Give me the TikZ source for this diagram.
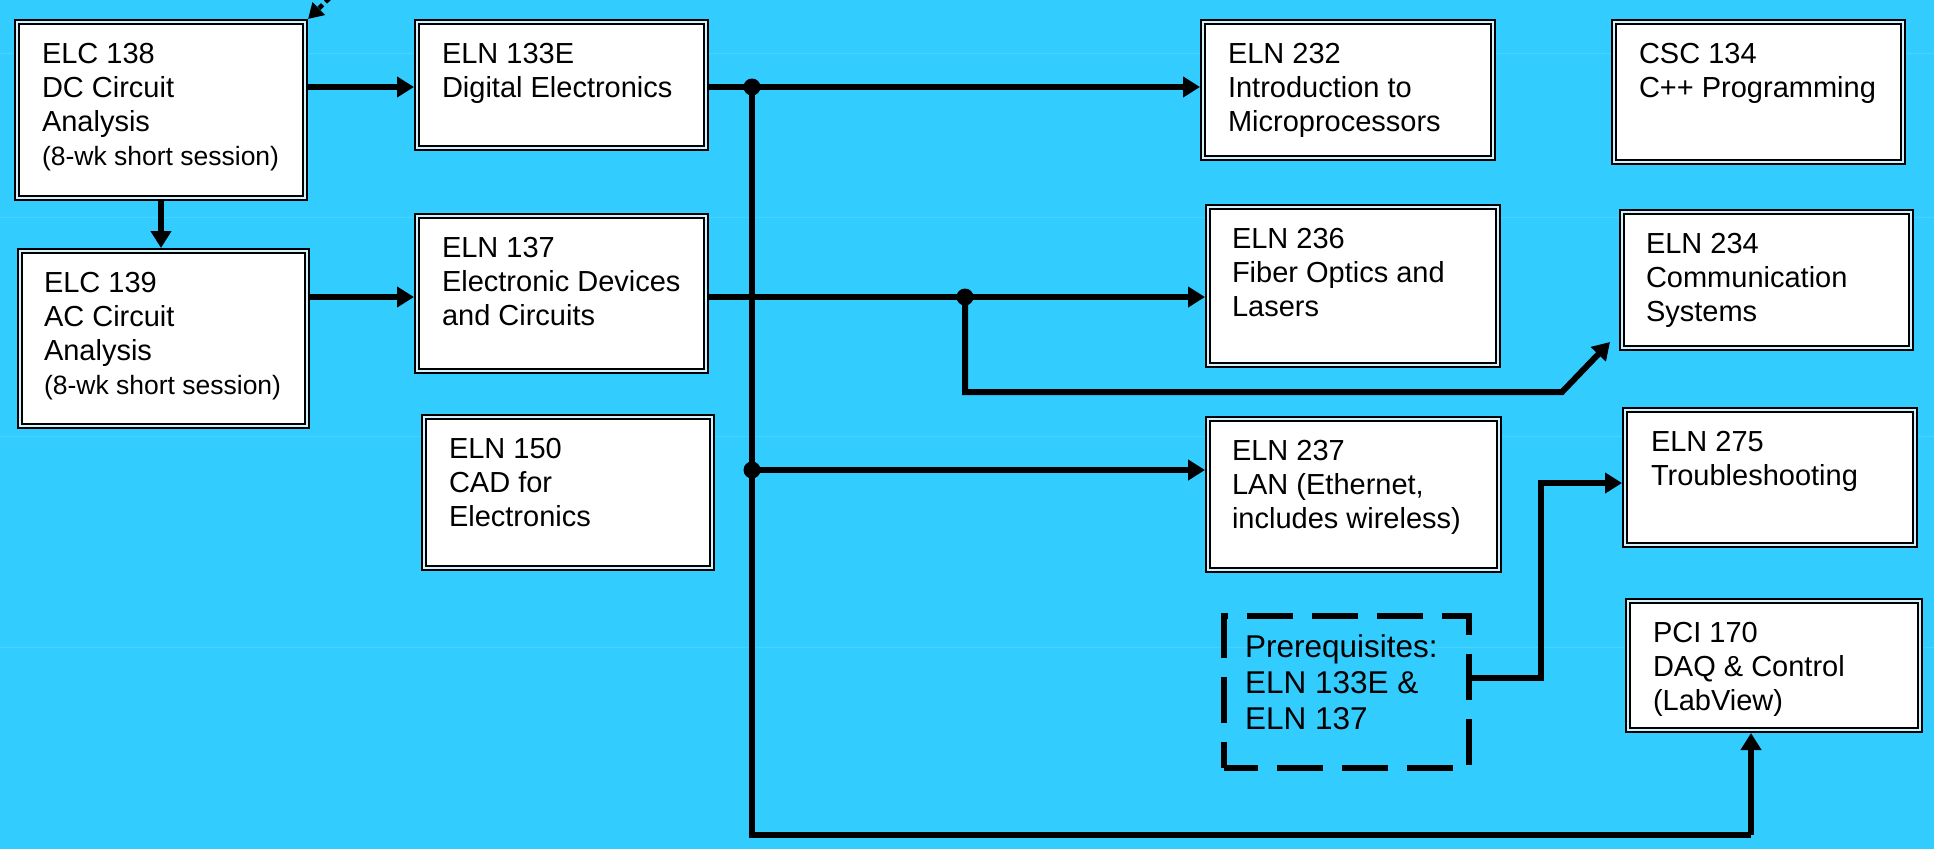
\documentclass[tikz,border=0pt]{standalone}
\usepackage{fontspec}
\setmainfont{Liberation Sans}
\usetikzlibrary{arrows.meta,calc}
\definecolor{bg}{HTML}{33CCFF}
\definecolor{dbl}{HTML}{CFF3FF}
\definecolor{gl}{HTML}{48D2FF}
\newcommand{\bxt}[4]{\parbox[t][#2pt][t]{#1pt}{\raggedright\leftskip=#3pt\relax\fontsize{29pt}{34pt}\selectfont\rule{0pt}{41pt}#4}}
\newcommand{\bigbxt}[4]{\parbox[t][#2pt][t]{#1pt}{\raggedright\leftskip=#3pt\relax\fontsize{31.5pt}{36pt}\selectfont\rule{0pt}{41pt}#4}}
\newcommand{\smalltxt}[1]{{\fontsize{26.5pt}{33pt}\selectfont #1}}
\tikzset{
  box/.style={draw=black, line width=2.3pt, double=dbl, double distance=1.8pt, fill=white,
    inner sep=0pt, outer sep=3pt, anchor=north west},
  dbox/.style={draw=black, line width=6pt, dash pattern=on 46pt off 19pt, dash phase=12pt,
    inner sep=0pt, outer sep=3pt, anchor=north west},
  con/.style={draw=black, line width=6pt, line join=miter},
  arr/.style={con, -{Triangle[length=17pt,width=20pt]}},
  darr/.style={draw=black, line width=4.5pt, dash pattern=on 5pt off 4pt, -{Triangle[length=15pt,width=17pt]}},
  dot/.style={fill=black},
  grid/.style={draw=gl, line width=1pt}
}
\begin{document}
\begin{tikzpicture}[x=1pt,y=-1pt]
\useasboundingbox (0,0) rectangle (1934,849);
\fill[bg] (0,0) rectangle (1934,849);
\draw[grid] (0,53) -- (1934,53);
\draw[grid] (0,217) -- (1934,217);
\draw[grid] (0,436) -- (1934,436);
\draw[grid] (0,647) -- (1934,647);

% boxes
\node[box] (elc138) at (14,19) {\bxt{288}{176}{25}{ELC 138\\DC Circuit\\Analysis\\\smalltxt{(8-wk short session)}}};
\node[box] (elc139) at (17,248) {\bxt{287}{175}{24}{ELC 139\\AC Circuit\\Analysis\\\smalltxt{(8-wk short session)}}};
\node[box] (eln133e) at (414,19) {\bxt{289}{126}{25}{ELN 133E\\Digital Electronics}};
\node[box] (eln137) at (414,213) {\bxt{289}{155}{25}{ELN 137\\Electronic Devices\\and Circuits}};
\node[box] (eln150) at (421,414) {\bxt{288}{151}{25}{ELN 150\\CAD for\\Electronics}};
\node[box] (eln232) at (1200,19) {\bxt{290}{136}{25}{ELN 232\\Introduction to\\Microprocessors}};
\node[box] (csc134) at (1611,19) {\bxt{289}{140}{25}{CSC 134\\C++ Programming}};
\node[box] (eln236) at (1205,204) {\bxt{290}{158}{24}{ELN 236\\Fiber Optics and\\Lasers}};
\node[box] (eln234) at (1619,209) {\bxt{289}{136}{24}{ELN 234\\Communication\\Systems}};
\node[box] (eln237) at (1205,416) {\bxt{291}{151}{24}{ELN 237\\LAN (Ethernet,\\includes wireless)}};
\node[box] (eln275) at (1622,407) {\bxt{290}{135}{26}{ELN 275\\Troubleshooting}};
\node[box] (pci170) at (1625,598) {\bxt{292}{129}{25}{PCI 170\\DAQ \& Control\\(LabView)}};
\node[dbox] (prereq) at (1221,613) {\bigbxt{245}{152}{21}{Prerequisites:\\ELN 133E \&\\ELN 137}};

% coordinates
\coordinate (top) at (342,-14);
\coordinate (j1) at (752,87);
\coordinate (j2) at (752,470);
\coordinate (j3) at (752,835);
\coordinate (pcib) at (1751,835);
\coordinate (j4) at (965,297);
\coordinate (k1) at (965,392);
\coordinate (k2) at (1562,392);
\coordinate (p1) at (1541,678);
\coordinate (p2) at (1541,483);

% connectors
\draw[darr] (top) -- (elc138.north east);
\draw[arr] (elc138.south) -- (elc138.south |- elc139.north);
\draw[arr] (elc138.east |- j1) -- (j1 -| eln133e.west);
\draw[arr] (elc139.east |- j4) -- (j4 -| eln137.west);
\draw[arr] (eln133e.east |- j1) -- (j1 -| eln232.west);
\draw[con] (j1) -- (j3) -- (pcib);
\draw[arr] (pcib) -- (pcib |- pci170.south);
\draw[arr] (j2) -- (j2 -| eln237.west);
\draw[arr] (eln137.east |- j4) -- (j4 -| eln236.west);
\draw[arr] (j4) -- (k1) -- (k2) -- ($(eln234.south west)+(-9,-9)$);
\draw[arr] (prereq.east |- p1) -- (p1) -- (p2) -- (p2 -| eln275.west);

% junction dots
\fill[dot] (j1) circle (8.5pt);
\fill[dot] (j2) circle (8.5pt);
\fill[dot] (j4) circle (8.5pt);
\end{tikzpicture}
\end{document}
